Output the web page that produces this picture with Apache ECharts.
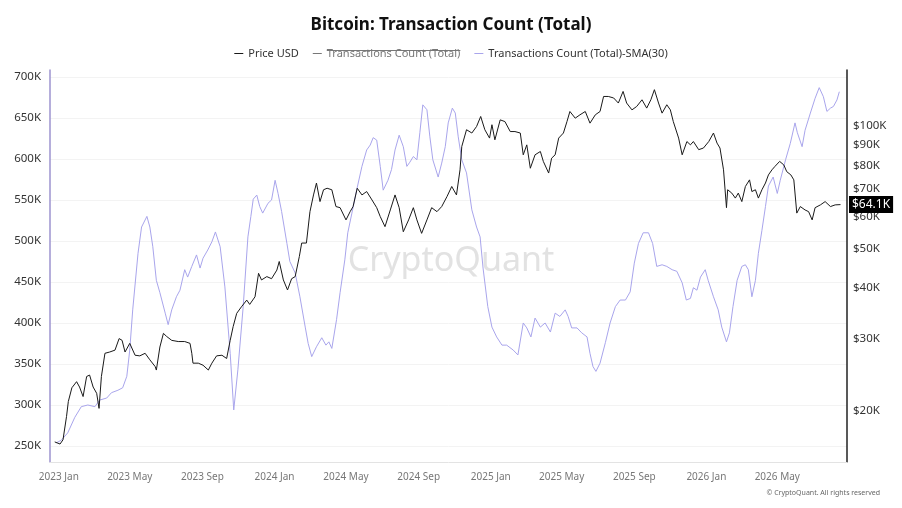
<!DOCTYPE html>
<html><head><meta charset="utf-8">
<script src="https://cdn.jsdelivr.net/npm/echarts@6/dist/echarts.min.js"></script>
<style>html,body{margin:0;padding:0;background:#fff}#c{width:902px;height:508px}</style>
</head><body><div id="c"></div>
<script>
const priceDates = ['2022-12-25','2023-01-03','2023-01-08','2023-01-14','2023-01-17','2023-01-20','2023-01-23','2023-01-31','2023-02-05','2023-02-11','2023-02-17','2023-02-22','2023-02-28','2023-03-06','2023-03-10','2023-03-14','2023-03-20','2023-03-28','2023-04-06','2023-04-13','2023-04-18','2023-04-23','2023-05-01','2023-05-10','2023-05-18','2023-05-27','2023-06-04','2023-06-13','2023-06-15','2023-06-21','2023-06-27','2023-07-02','2023-07-11','2023-07-22','2023-08-02','2023-08-11','2023-08-14','2023-08-16','2023-08-25','2023-09-02','2023-09-11','2023-09-17','2023-09-25','2023-10-04','2023-10-12','2023-10-18','2023-10-23','2023-10-29','2023-11-06','2023-11-15','2023-11-20','2023-11-29','2023-12-05','2023-12-10','2023-12-19','2023-12-27','2024-01-05','2024-01-09','2024-01-16','2024-01-23','2024-01-30','2024-02-05','2024-02-12','2024-02-16','2024-02-24','2024-03-01','2024-03-07','2024-03-12','2024-03-18','2024-03-24','2024-03-30','2024-04-07','2024-04-14','2024-04-21','2024-05-01','2024-05-08','2024-05-13','2024-05-20','2024-05-28','2024-06-05','2024-06-14','2024-06-22','2024-06-28','2024-07-06','2024-07-15','2024-07-23','2024-07-30','2024-08-06','2024-08-15','2024-08-23','2024-08-29','2024-09-06','2024-09-15','2024-09-23','2024-10-02','2024-10-10','2024-10-19','2024-10-27','2024-11-04','2024-11-10','2024-11-13','2024-11-21','2024-11-30','2024-12-08','2024-12-15','2024-12-22','2024-12-30','2025-01-03','2025-01-08','2025-01-17','2025-01-25','2025-02-03','2025-02-11','2025-02-20','2025-02-25','2025-03-03','2025-03-09','2025-03-17','2025-03-26','2025-03-31','2025-04-09','2025-04-14','2025-04-20','2025-04-26','2025-05-04','2025-05-10','2025-05-15','2025-05-24','2025-06-01','2025-06-10','2025-06-18','2025-06-27','2025-07-05','2025-07-11','2025-07-19','2025-07-28','2025-08-05','2025-08-13','2025-08-19','2025-08-28','2025-09-05','2025-09-14','2025-09-22','2025-09-29','2025-10-05','2025-10-12','2025-10-18','2025-10-26','2025-11-01','2025-11-06','2025-11-15','2025-11-21','2025-11-29','2025-12-05','2025-12-10','2025-12-19','2025-12-27','2026-01-05','2026-01-13','2026-01-19','2026-01-24','2026-01-30','2026-02-04','2026-02-06','2026-02-13','2026-02-19','2026-02-24','2026-03-02','2026-03-08','2026-03-15','2026-03-19','2026-03-25','2026-03-30','2026-04-05','2026-04-11','2026-04-16','2026-04-22','2026-04-27','2026-05-05','2026-05-12','2026-05-17','2026-05-24','2026-05-29','2026-06-03','2026-06-09','2026-06-17','2026-06-23','2026-06-29','2026-07-04','2026-07-13','2026-07-21','2026-07-30','2026-08-07','2026-08-16'];
const priceValues = [16800,16600,17000,19400,21100,21300,22800,23600,22900,21700,24300,24500,22900,22100,20300,24300,27700,27900,28200,30100,29800,27900,29300,27400,27300,27700,26700,25700,25200,28700,31000,30500,29800,29600,29600,29300,27700,26200,26200,25900,25200,26200,27300,27400,26900,29800,32200,34700,36000,37400,36500,38100,43500,41900,42700,42200,44300,46500,41900,39600,42200,42700,47800,51600,51600,61600,67700,72400,65200,69700,70300,69700,63400,63000,58800,61600,63400,70300,67700,69000,65800,63000,59900,56600,62200,67700,63000,55000,58800,63000,58800,54500,58800,63000,61600,63400,67100,71000,67700,78000,89000,97800,96000,99600,105400,97800,93300,100600,92400,103400,102400,96800,96800,96000,84900,89800,78700,84900,86500,81800,76600,83300,84900,93300,96000,102400,108400,104400,106400,108400,101500,106400,108400,118000,118000,117000,113700,121400,113700,109400,111500,115800,110500,115800,122600,113700,107400,112600,109400,102400,93300,84900,91500,89800,91500,87400,88200,91500,96000,90700,88200,78000,63000,69700,68400,66500,68400,65200,71000,73700,69000,69700,66500,69700,72400,75800,78000,79500,81800,80200,77200,75800,73700,61100,63400,62200,61600,58800,63000,64000,65200,63400,64000,64100];
const smaDates = ['2022-12-28','2023-01-05','2023-01-16','2023-01-28','2023-02-08','2023-02-19','2023-03-03','2023-03-11','2023-03-23','2023-03-31','2023-04-11','2023-04-19','2023-04-26','2023-05-01','2023-05-06','2023-05-15','2023-05-21','2023-05-30','2023-06-04','2023-06-09','2023-06-15','2023-06-21','2023-06-30','2023-07-05','2023-07-11','2023-07-19','2023-07-25','2023-08-02','2023-08-07','2023-08-14','2023-08-22','2023-08-28','2023-09-02','2023-09-10','2023-09-17','2023-09-23','2023-10-01','2023-10-09','2023-10-18','2023-10-24','2023-10-31','2023-11-09','2023-11-17','2023-11-22','2023-11-26','2023-12-02','2023-12-07','2023-12-12','2023-12-21','2023-12-27','2024-01-02','2024-01-07','2024-01-13','2024-01-22','2024-01-27','2024-02-05','2024-02-13','2024-02-22','2024-02-27','2024-03-04','2024-03-12','2024-03-21','2024-03-28','2024-04-02','2024-04-07','2024-04-15','2024-04-21','2024-04-29','2024-05-04','2024-05-11','2024-05-19','2024-05-28','2024-06-05','2024-06-11','2024-06-16','2024-06-22','2024-06-28','2024-07-03','2024-07-11','2024-07-17','2024-07-23','2024-07-30','2024-08-06','2024-08-12','2024-08-17','2024-08-23','2024-08-29','2024-09-03','2024-09-08','2024-09-15','2024-09-20','2024-09-25','2024-10-04','2024-10-10','2024-10-16','2024-10-21','2024-10-28','2024-11-02','2024-11-07','2024-11-13','2024-11-21','2024-11-30','2024-12-08','2024-12-14','2024-12-19','2024-12-27','2025-01-03','2025-01-11','2025-01-20','2025-01-28','2025-02-08','2025-02-16','2025-02-25','2025-03-03','2025-03-10','2025-03-17','2025-03-26','2025-04-03','2025-04-12','2025-04-20','2025-04-28','2025-05-07','2025-05-12','2025-05-18','2025-05-27','2025-06-04','2025-06-13','2025-06-18','2025-06-23','2025-06-28','2025-07-05','2025-07-14','2025-07-22','2025-07-31','2025-08-08','2025-08-17','2025-08-25','2025-09-01','2025-09-08','2025-09-16','2025-09-25','2025-10-02','2025-10-09','2025-10-18','2025-10-26','2025-11-04','2025-11-12','2025-11-21','2025-11-28','2025-12-05','2025-12-10','2025-12-16','2025-12-22','2025-12-30','2026-01-04','2026-01-13','2026-01-21','2026-01-27','2026-02-04','2026-02-09','2026-02-15','2026-02-22','2026-03-02','2026-03-08','2026-03-13','2026-03-19','2026-03-25','2026-03-30','2026-04-05','2026-04-11','2026-04-16','2026-04-24','2026-05-01','2026-05-06','2026-05-15','2026-05-23','2026-05-31','2026-06-04','2026-06-12','2026-06-17','2026-06-26','2026-07-04','2026-07-11','2026-07-18','2026-07-24','2026-07-30','2026-08-04','2026-08-10','2026-08-14'];
const smaValues = [254000,257000,266000,285000,298000,300000,298000,306000,308500,315000,318000,321000,335000,367000,416000,485000,517000,530000,517000,493000,452000,437000,412000,398000,416000,432000,440000,465000,456000,469000,483000,467000,479000,489000,499000,511000,493000,444000,363000,294000,343000,420000,505000,530000,551000,556000,542000,534000,546000,550000,574000,558000,536000,497000,475000,461000,432000,395000,375000,359000,371000,382000,373000,377000,369000,404000,437000,477000,510000,534000,562000,591000,611000,617000,626000,623000,591000,562000,574000,587000,611000,629000,615000,591000,596000,603000,599000,632000,666000,660000,627000,599000,578000,595000,615000,644000,662000,656000,627000,599000,583000,538000,517000,505000,467000,420000,395000,383000,373000,373000,367000,361000,400000,394000,383000,406000,395000,400000,389000,412000,408000,416000,408000,394000,394000,388000,383000,363000,347000,341000,351000,376000,400000,420000,428000,428000,438000,473000,497000,510000,510000,497000,469000,471000,469000,465000,463000,449000,428000,430000,443000,440000,456000,465000,452000,432000,416000,395000,377000,388000,420000,452000,469000,471000,465000,432000,452000,485000,513000,542000,567000,578000,558000,574000,599000,619000,644000,632000,615000,635000,656000,674000,687000,676000,658000,662000,664000,672000,682000];
const txTotalValues = [];
const legendNames = ['Price USD','Transactions Count (Total)','Transactions Count (Total)-SMA(30)'];
const leftTicks = [250000,300000,350000,400000,450000,500000,550000,600000,650000,700000];
const rightTicks = [20000,30000,40000,50000,60000,70000,80000,90000,100000];
const xTickDates = ['2023-01-01','2023-05-01','2023-09-01','2024-01-01','2024-05-01','2024-09-01','2025-01-01','2025-05-01','2025-09-01','2026-01-01','2026-05-01'];
const monthNames = ['Jan','Feb','Mar','Apr','May','Jun','Jul','Aug','Sep','Oct','Nov','Dec'];

function ts(s){const p=s.split('-');return new Date(+p[0],+p[1]-1,+p[2]).getTime();}
const lastPrice = priceValues[priceValues.length-1];
const FONT = '"Noto Sans", "Open Sans", sans-serif';

// strike-through decoration for the hidden legend entry (measured text layout)
const LEG_FS = 11, LEG_IW = 9, LEG_GAP = 14, LEG_TOP = 43;
const mctx = document.createElement('canvas').getContext('2d');
mctx.font = LEG_FS + 'px "Noto Sans"';
const lw = legendNames.map(function(n){return mctx.measureText(n).width;});
const legTotal = lw.reduce(function(a,w){return a + LEG_IW + 5 + w;},0) + LEG_GAP*(legendNames.length-1);
const legLeft = (902 - legTotal)/2;
const strikeX1 = legLeft + (LEG_IW + 5 + lw[0]) + LEG_GAP + LEG_IW + 5;
const strikeX2 = strikeX1 + lw[1];

const chart = echarts.init(document.getElementById('c'));
chart.setOption({
  animation:false,
  backgroundColor:'#fff',
  title:{text:'Bitcoin: Transaction Count (Total)', left:'center', top:12,
    textStyle:{fontFamily:FONT, fontSize:17, fontWeight:'bold', color:'#111'}},
  legend:{top:LEG_TOP, left:'center', icon:'rect', itemWidth:LEG_IW, itemHeight:1, itemGap:LEG_GAP,
    textStyle:{fontFamily:FONT, fontSize:LEG_FS, color:'#333'}, inactiveColor:'#777',
    data:legendNames, selected:{'Transactions Count (Total)':false}},
  grid:{left:50,right:55,top:70,bottom:46},
  xAxis:{type:'value', min:ts('2022-12-17'), max:ts('2026-08-27'),
    axisLine:{lineStyle:{color:'#e3e3e3'}}, axisTick:{show:false}, splitLine:{show:false},
    axisLabel:{customValues:xTickDates.map(ts), color:'#777', fontSize:10, fontFamily:FONT, margin:10,
      formatter:function(v){const d=new Date(v);return d.getFullYear()+' '+monthNames[d.getMonth()];}}},
  yAxis:[
    {type:'value', position:'left', min:230500, max:708500,
      axisLine:{show:true, lineStyle:{color:'#9d93cf', width:1.5}},
      axisTick:{show:false, customValues:leftTicks},
      splitLine:{show:true, lineStyle:{color:'#f3f3f3'}},
      axisLabel:{customValues:leftTicks, color:'#333', fontSize:11.5, fontFamily:FONT, margin:9,
        formatter:function(v){return (v/1000)+'K';}}},
    {type:'log', position:'right', min:15000, max:137000,
      axisLine:{show:true, lineStyle:{color:'#222', width:1.5}},
      axisTick:{show:false}, splitLine:{show:false},
      axisLabel:{customValues:rightTicks, color:'#333', fontSize:11.5, fontFamily:FONT, margin:6,
        formatter:function(v){return '$'+(v/1000)+'K';}}}
  ],
  graphic:[
    {type:'text', left:'center', top:244, z:-10, silent:true,
      style:{text:'CryptoQuant', font:'34px "Noto Sans"', fill:'#e2e2e2'}},
    {type:'text', right:22, top:489, silent:true,
      style:{text:'© CryptoQuant. All rights reserved', font:'7px "Noto Sans"', fill:'#666'}},
    {type:'line', silent:true, z:100,
      shape:{x1:strikeX1, y1:LEG_TOP+7.5, x2:strikeX2, y2:LEG_TOP+7.5},
      style:{stroke:'#777', lineWidth:1}}
  ],
  series:[
    {name:'Price USD', type:'line', yAxisIndex:1, showSymbol:false, color:'#1a1a1a', z:4,
      lineStyle:{width:1, color:'#1a1a1a'},
      data:priceDates.map(function(d,i){return [ts(d), priceValues[i]];}),
      markLine:{symbol:'none', silent:true, lineStyle:{color:'rgba(0,0,0,0)'},
        label:{position:'end', distance:2, formatter:'$'+(lastPrice/1000).toFixed(1)+'K',
          backgroundColor:'#000', color:'#fff', padding:[3,3,2,3], fontSize:12, fontFamily:FONT},
        data:[{yAxis:lastPrice}]}},
    {name:'Transactions Count (Total)', type:'line', yAxisIndex:0, showSymbol:false, color:'#333',
      data:txTotalValues},
    {name:'Transactions Count (Total)-SMA(30)', type:'line', yAxisIndex:0, showSymbol:false, color:'#a9a5ec', z:3,
      lineStyle:{width:1, color:'#a9a5ec'},
      data:smaDates.map(function(d,i){return [ts(d), smaValues[i]];})}
  ]
});
</script></body></html>
